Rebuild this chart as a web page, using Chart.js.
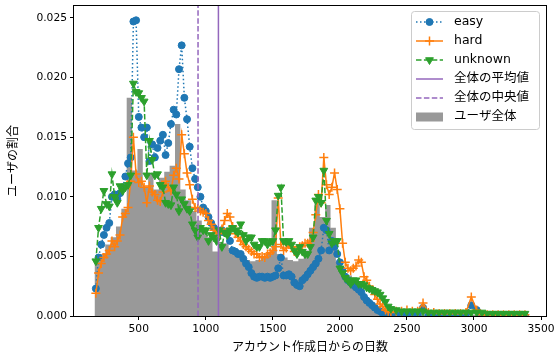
<!DOCTYPE html>
<html>
<head>
<meta charset="utf-8">
<script src="https://cdn.jsdelivr.net/npm/chart.js@4"></script>
<style>
html, body { margin: 0; padding: 0; background: #fff; }
#wrap { width: 558px; height: 363px; }
</style>
</head>
<body>
<div id="wrap"><canvas id="chart" width="558" height="363"></canvas></div>
<script>
// days since account creation (x of each line point)
const days = [
  180, 200, 220, 240, 260, 280, 300, 320, 340, 360,
  380, 400, 420, 440, 460, 480, 500, 520, 540, 560,
  580, 600, 620, 640, 660, 680, 700, 720, 740, 760,
  780, 800, 820, 840, 860, 880, 900, 920, 940, 960,
  980, 1000, 1020, 1040, 1060, 1080, 1100, 1120, 1140, 1160,
  1180, 1200, 1220, 1240, 1260, 1280, 1300, 1320, 1340, 1360,
  1380, 1400, 1420, 1440, 1460, 1480, 1500, 1520, 1540, 1560,
  1580, 1600, 1620, 1640, 1660, 1680, 1700, 1720, 1740, 1760,
  1780, 1800, 1820, 1840, 1860, 1880, 1900, 1920, 1940, 1960,
  1980, 2000, 2020, 2040, 2060, 2080, 2100, 2120, 2140, 2160,
  2180, 2200, 2220, 2240, 2260, 2280, 2300, 2320, 2340, 2360,
  2380,
  2420, 2460, 2500, 2540, 2580, 2620, 2660, 2700, 2740, 2780,
  2820, 2860, 2900, 2940, 2980, 3020, 3060, 3100, 3140, 3180,
  3220, 3260, 3300, 3340, 3380
];

const easy = [
  .0023, .0049, .0060, .0068, .0074, .0078, .0100, .0102, .0098, .0103,
  .0108, .0117, .0128, .0133, .0247, .0248, .0167, .0158, .0150, .0158,
  .0130, .0144, .0133, .0141, .0147, .0152, .0135, .0145, .0161, .0173,
  .0169, .0207, .0227, .0183, .0165, .0142, .0124, .0115, .0108, .0100,
  .0091, .0088, .0083, .0078, .0074, .0072, .0070, .0072, .0070, .0069,
  .0063, .0055, .0054, .0052, .0052, .0048, .0044, .0041, .0036, .0033,
  .0032, .0033, .0033, .0032, .0033, .0032, .0033, .0034, .0040, .0049,
  .0034, .0034, .0035, .0033, .0028, .0026, .0025, .0030, .0032, .0035,
  .0038, .0041, .0044, .0048, .0055, .0074, .0072, .0055, .0063, .0058,
  .0052, .0045, .0038, .0033, .0030, .0028, .0026, .0024, .0022, .0020,
  .0016, .0013, .0011, .0009, .0007, .0005, .0004, .0002, .0001, .0001,
  .0000,
  .0001, .0001, .0001, .0001, .0001, .0007, .0001, .0001, .0001, .0001,
  .0001, .0001, .0001, .0002, .0009, .0005, .0001, .0000, .0000, .0000,
  .0000, .0000, .0000, .0000, .0000
];

const hard = [
  .0019, .0036, .0044, .0049, .0052, .0055, .0063, .0058, .0063, .0068,
  .0083, .0086, .0091, .0113, .0150, .0119, .0112, .0113, .0108, .0095,
  .0109, .0104, .0102, .0097, .0096, .0104, .0113, .0108, .0105, .0118,
  .0124, .0115, .0152, .0136, .0120, .0110, .0098, .0091, .0090, .0088,
  .0087, .0086, .0080, .0077, .0072, .0070, .0069, .0073, .0080, .0086,
  .0083, .0075, .0069, .0066, .0063, .0060, .0058, .0056, .0054, .0052,
  .0052, .0049, .0050, .0049, .0052, .0053, .0055, .0058, .0099, .0060,
  .0055, .0057, .0060, .0058, .0054, .0055, .0058, .0059, .0061, .0061,
  .0063, .0070, .0085, .0102, .0095, .0133, .0110, .0102, .0108, .0120,
  .0106, .0090, .0061, .0045, .0040, .0038, .0040, .0042, .0047, .0045,
  .0033, .0030, .0025, .0022, .0018, .0014, .0010, .0008, .0005, .0004,
  .0003,
  .0004, .0004, .0005, .0004, .0004, .0011, .0003, .0003, .0002, .0002,
  .0002, .0002, .0002, .0003, .0016, .0005, .0001, .0001, .0001, .0001,
  .0001, .0001, .0001, .0001, .0001
];

const unknown = [
  .0046, .0074, .0090, .0105, .0094, .0092, .0119, .0100, .0095, .0109,
  .0105, .0108, .0110, .0118, .0195, .0188, .0187, .0183, .0180, .0118,
  .0147, .0131, .0118, .0119, .0110, .0108, .0095, .0094, .0093, .0108,
  .0102, .0088, .0098, .0094, .0090, .0088, .0077, .0072, .0066, .0074,
  .0072, .0072, .0063, .0068, .0066, .0063, .0072, .0058, .0070, .0068,
  .0072, .0074, .0072, .0070, .0077, .0068, .0063, .0066, .0066, .0060,
  .0058, .0058, .0063, .0063, .0060, .0062, .0063, .0072, .0101, .0108,
  .0063, .0062, .0063, .0060, .0055, .0052, .0058, .0054, .0052, .0052,
  .0058, .0066, .0097, .0100, .0095, .0122, .0080, .0069, .0061, .0063,
  .0063, .0040, .0036, .0032, .0030, .0027, .0030, .0030, .0027, .0027,
  .0026, .0024, .0023, .0022, .0021, .0020, .0018, .0015, .0012, .0008,
  .0006,
  .0005, .0004, .0004, .0004, .0004, .0004, .0003, .0003, .0003, .0003,
  .0003, .0003, .0003, .0003, .0003, .0003, .0003, .0002, .0002, .0002,
  .0002, .0002, .0002, .0002, .0002
];

// histogram of all users: left edge of each bin and its density
const histStart = [
  170, 210, 250, 290, 330, 370, 410, 450, 490, 530,
  570, 610, 650, 690, 730, 770, 810, 850, 890, 930,
  970, 1010, 1050, 1090, 1130, 1170, 1210, 1250, 1290, 1330,
  1370, 1410, 1450, 1490, 1530, 1570, 1610, 1650, 1690, 1730,
  1770, 1810, 1850, 1890, 1930, 1970, 2010, 2050, 2090, 2130,
  2170, 2210, 2250, 2290, 2330, 2370, 2410, 2450, 2490, 2530,
  2570, 2610, 2650, 2690, 2730, 2770, 2810, 2850, 2890, 2930,
  2970, 3010, 3050, 3090, 3130, 3170, 3210, 3250, 3290, 3330,
  3370
];
const histLastEdge = 3410;
const histDensity = [
  .0040, .0046, .0052, .0060, .0066, .0075, .0090, .0183, .0122, .0140,
  .0108, .0120, .0106, .0116, .0121, .0126, .0161, .0106, .0097, .0088,
  .0080, .0072, .0066, .0054, .0062, .0061, .0057, .0054, .0050, .0047,
  .0046, .0047, .0049, .0052, .0097, .0052, .0049, .0047, .0046, .0048,
  .0055, .0074, .0094, .0083, .0093, .0074, .0045, .0036, .0034, .0032,
  .0026, .0015, .0008, .0004, .0002, .0001, .0001, .0001, .0001, .0001,
  .0001, .0003, .0001, .0001, .0001, .0001, .0001, .0001, .0001, .0001,
  .0005, .0001, .0001, .0001, .0001, .0001, .0001, .0001, .0001, .0001,
  .0001
];

const meanDays = 1094;
const medianDays = 942;

const xTicks = [500, 1000, 1500, 2000, 2500, 3000, 3500];
const yTicks = [0, 0.005, 0.010, 0.015, 0.020, 0.025];
const xMin = 17, xMax = 3537;
const yMin = 0, yMax = 0.026;

const C0 = '#1f77b4', C1 = '#ff7f0e', C2 = '#2ca02c', C4 = '#9467bd', GRAY = '#999999';
const FONT = "'DejaVu Sans', 'Noto Sans CJK JP', sans-serif";
const FS = 10.7;      // tick labels
const FS_TITLE = 12;  // axis titles
const FS_LEG = 12.5;  // legend

function pts(xs, ys) {
  return xs.map((x, i) => ({ x: x, y: ys[i] }));
}

const histPoints = pts(histStart, histDensity);
histPoints.push({ x: histLastEdge, y: histDensity[histDensity.length - 1] });

const legendItems = [
  { label: 'easy', color: C0, dash: [1.5, 2.5], marker: 'circle' },
  { label: 'hard', color: C1, dash: [], marker: 'plus' },
  { label: 'unknown', color: C2, dash: [5.5, 2.4], marker: 'tri' },
  { label: '全体の平均値', color: C4, dash: [], marker: null },
  { label: '全体の中央値', color: C4, dash: [5.5, 2.4], marker: null },
  { label: 'ユーザ全体', color: GRAY, patch: true }
];

function drawMarker(ctx, kind, x, y, color) {
  ctx.fillStyle = color;
  ctx.strokeStyle = color;
  ctx.setLineDash([]);
  if (kind === 'circle') {
    ctx.beginPath();
    ctx.arc(x, y, 3.5, 0, Math.PI * 2);
    ctx.fill();
    ctx.lineWidth = 1;
    ctx.stroke();
  } else if (kind === 'plus') {
    ctx.lineWidth = 1.5;
    ctx.beginPath();
    ctx.moveTo(x - 4.5, y); ctx.lineTo(x + 4.5, y);
    ctx.moveTo(x, y - 4.5); ctx.lineTo(x, y + 4.5);
    ctx.stroke();
  } else if (kind === 'tri') {
    const r = 4.5;
    ctx.lineWidth = 1;
    ctx.beginPath();
    ctx.moveTo(x, y + r);
    ctx.lineTo(x - r * 0.866, y - r / 2);
    ctx.lineTo(x + r * 0.866, y - r / 2);
    ctx.closePath();
    ctx.fill();
    ctx.stroke();
  }
}

const framePlugin = {
  id: 'frame',
  afterDraw(chart) {
    const ctx = chart.ctx;
    const a = chart.chartArea;
    ctx.save();
    ctx.strokeStyle = '#000';
    ctx.lineWidth = 1;
    ctx.setLineDash([]);
    ctx.strokeRect(a.left - 0.5, a.top - 0.5, a.right - a.left + 1, a.bottom - a.top + 1);

    // legend box, upper right
    const bx = 411.5, by = 11.5, bw = 128, bh = 118, r = 3;
    ctx.beginPath();
    ctx.moveTo(bx + r, by);
    ctx.lineTo(bx + bw - r, by);
    ctx.arcTo(bx + bw, by, bx + bw, by + r, r);
    ctx.lineTo(bx + bw, by + bh - r);
    ctx.arcTo(bx + bw, by + bh, bx + bw - r, by + bh, r);
    ctx.lineTo(bx + r, by + bh);
    ctx.arcTo(bx, by + bh, bx, by + bh - r, r);
    ctx.lineTo(bx, by + r);
    ctx.arcTo(bx, by, bx + r, by, r);
    ctx.closePath();
    ctx.fillStyle = 'rgba(255,255,255,0.8)';
    ctx.fill();
    ctx.strokeStyle = '#cccccc';
    ctx.stroke();

    const x0 = 416, x1 = 443, tx = 454;
    legendItems.forEach((it, i) => {
      const y = 22 + i * 19;
      if (it.patch) {
        ctx.fillStyle = it.color;
        ctx.fillRect(x0, y - 4.5, x1 - x0, 9);
      } else {
        ctx.strokeStyle = it.color;
        ctx.lineWidth = 1.5;
        ctx.setLineDash(it.dash);
        ctx.beginPath();
        ctx.moveTo(x0, y);
        ctx.lineTo(x1, y);
        ctx.stroke();
        if (it.marker) drawMarker(ctx, it.marker, (x0 + x1) / 2, y, it.color);
      }
      ctx.setLineDash([]);
      ctx.fillStyle = '#000';
      ctx.font = FS_LEG + 'px ' + FONT;
      ctx.textBaseline = 'middle';
      ctx.textAlign = 'left';
      ctx.fillText(it.label, tx, y);
    });
    ctx.restore();
  }
};

const ctx = document.getElementById('chart').getContext('2d');
new Chart(ctx, {
  type: 'line',
  data: {
    datasets: [
      {
        label: 'ユーザ全体',
        data: histPoints,
        stepped: 'after',
        fill: 'origin',
        backgroundColor: GRAY,
        borderWidth: 0,
        pointRadius: 0,
        order: 10
      },
      {
        label: 'easy',
        data: pts(days, easy),
        borderColor: C0,
        borderWidth: 1.5,
        borderDash: [1.5, 2.5],
        pointStyle: 'circle',
        pointRadius: 3.5,
        pointBackgroundColor: C0,
        pointBorderColor: C0,
        pointBorderWidth: 1,
        fill: false,
        order: 4
      },
      {
        label: 'hard',
        data: pts(days, hard),
        borderColor: C1,
        borderWidth: 1.5,
        pointStyle: 'cross',
        pointRadius: 4.5,
        pointBorderColor: C1,
        pointBorderWidth: 1.5,
        fill: false,
        order: 3
      },
      {
        label: 'unknown',
        data: pts(days, unknown),
        borderColor: C2,
        borderWidth: 1.5,
        borderDash: [5.5, 2.4],
        pointStyle: 'triangle',
        pointRotation: 180,
        pointRadius: 4.5,
        pointBackgroundColor: C2,
        pointBorderColor: C2,
        pointBorderWidth: 1,
        fill: false,
        order: 2
      },
      {
        label: '全体の平均値',
        data: [{ x: meanDays, y: yMin }, { x: meanDays, y: yMax }],
        borderColor: C4,
        borderWidth: 1.5,
        pointRadius: 0,
        fill: false,
        order: 1
      },
      {
        label: '全体の中央値',
        data: [{ x: medianDays, y: yMin }, { x: medianDays, y: yMax }],
        borderColor: C4,
        borderWidth: 1.5,
        borderDash: [5.5, 2.4],
        pointRadius: 0,
        fill: false,
        order: 0
      }
    ]
  },
  options: {
    responsive: false,
    devicePixelRatio: 1,
    animation: false,
    events: [],
    layout: { padding: { left: 0, right: 12, top: 4, bottom: 0 } },
    elements: { line: { tension: 0 } },
    plugins: {
      legend: { display: false },
      tooltip: { enabled: false }
    },
    scales: {
      x: {
        type: 'linear',
        min: xMin,
        max: xMax,
        afterBuildTicks: s => { s.ticks = xTicks.map(v => ({ value: v })); },
        afterFit: s => { s.height = 47; s.paddingLeft = 0; s.paddingRight = 0; },
        border: { display: false },
        grid: { drawOnChartArea: false, drawTicks: true, tickLength: 4, color: '#000', lineWidth: 1 },
        ticks: {
          color: '#000',
          font: { family: FONT, size: FS },
          padding: 3,
          maxRotation: 0,
          autoSkip: false,
          callback: v => String(v)
        },
        title: {
          display: true,
          text: 'アカウント作成日からの日数',
          color: '#000',
          font: { family: FONT, size: FS_TITLE },
          padding: { top: 0, bottom: 7.8 }
        }
      },
      y: {
        min: yMin,
        max: yMax,
        afterBuildTicks: s => { s.ticks = yTicks.map(v => ({ value: v })); },
        afterFit: s => { s.width = 74; s.paddingTop = 0; s.paddingBottom = 0; },
        border: { display: false },
        grid: { drawOnChartArea: false, drawTicks: true, tickLength: 4, color: '#000', lineWidth: 1 },
        ticks: {
          color: '#000',
          font: { family: FONT, size: FS },
          padding: 3,
          autoSkip: false,
          callback: v => v.toFixed(3)
        },
        title: {
          display: true,
          text: 'ユーザの割合',
          color: '#000',
          font: { family: FONT, size: FS_TITLE },
          padding: { top: 6.8, bottom: 0 }
        }
      }
    }
  },
  plugins: [framePlugin]
});
</script>
</body>
</html>
